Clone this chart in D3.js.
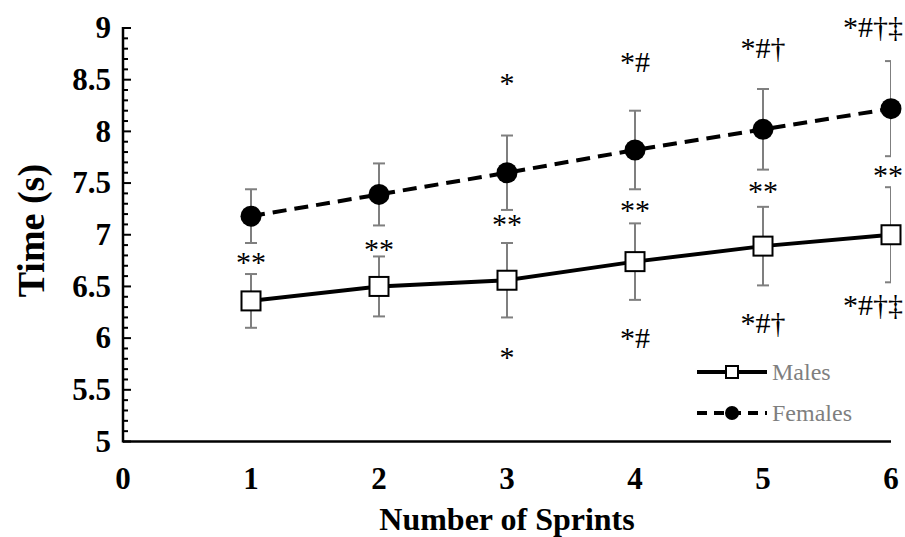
<!DOCTYPE html>
<html>
<head>
<meta charset="utf-8">
<script src="https://cdn.jsdelivr.net/npm/d3@7"></script>
<style>
  body { margin: 0; background: #fff; }
  svg text { font-family: "Liberation Serif", "Times New Roman", serif; }
</style>
</head>
<body>
<div id="chart"></div>
<script>
// sprint number (x)
var sprints = [1, 2, 3, 4, 5, 6]

// mean times and SD (s)
var malesMean = [6.36, 6.50, 6.56, 6.74, 6.89, 7.00]
var malesSD = [0.26, 0.29, 0.36, 0.37, 0.38, 0.46]
var femalesMean = [7.18, 7.39, 7.60, 7.82, 8.02, 8.22]
var femalesSD = [0.26, 0.30, 0.36, 0.38, 0.39, 0.46]

// significance markers and where they sit (in seconds)
var malesAbove = ["**", "**", "**", "**", "**", "**"]
var malesAboveAt = [6.64, 6.77, 7.01, 7.14, 7.33, 7.48]
var femalesAbove = ["", "", "*", "*#", "*#†", "*#†‡"]
var femalesAboveAt = [0, 0, 8.37, 8.57, 8.71, 8.91]
var malesBelow = ["", "", "*", "*#", "*#†", "*#†‡"]
var malesBelowAt = [0, 0, 5.72, 5.905, 6.05, 6.225]

var xTicks = [0, 1, 2, 3, 4, 5, 6]
var yTicks = [5, 5.5, 6, 6.5, 7, 7.5, 8, 8.5, 9]
var seriesNames = ["Males", "Females"]

var margin = { top: 28, right: 14, bottom: 96, left: 123 }

var svg = d3
  .select("#chart")
  .append("svg")
  .attr("width", 905)
  .attr("height", 537)

var g = svg
  .append("g")
  .attr("transform", "translate(" + margin.left + "," + margin.top + ")")

var x = d3.scaleLinear().domain([0, 6]).range([0, 768])
var y = d3.scaleLinear().domain([5, 9]).range([413.5, 0])

g.append("clipPath")
  .attr("id", "plot-clip")
  .append("rect")
  .attr("x", -5)
  .attr("y", -30)
  .attr("width", x(6) + 5)
  .attr("height", 480)

// y axis with minor ticks every 0.1
var minor = d3.range(50, 91).map((d) => d / 10)
g.append("g")
  .selectAll("line")
  .data(minor)
  .enter()
  .append("line")
  .attr("x1", 0)
  .attr("x2", (d, i) => (i % 5 === 0 ? 8 : 5))
  .attr("y1", (d) => y(d))
  .attr("y2", (d) => y(d))
  .attr("stroke", "#000")
  .attr("stroke-width", 2)

g.append("line")
  .attr("x1", 0).attr("x2", 0)
  .attr("y1", y(9) - 1).attr("y2", y(5) + 1)
  .attr("stroke", "#000").attr("stroke-width", 2.5)

g.append("line")
  .attr("x1", 0).attr("x2", x(6))
  .attr("y1", y(5)).attr("y2", y(5))
  .attr("stroke", "#000").attr("stroke-width", 2.5)

g.append("g")
  .selectAll("text")
  .data(yTicks)
  .enter()
  .append("text")
  .attr("x", -12)
  .attr("y", (d) => y(d))
  .attr("dy", "0.33em")
  .attr("text-anchor", "end")
  .style("font-size", "31px")
  .style("font-weight", "bold")
  .text((d) => d)

g.append("g")
  .selectAll("text")
  .data(xTicks)
  .enter()
  .append("text")
  .attr("x", (d) => x(d))
  .attr("y", y(5) + 47)
  .attr("text-anchor", "middle")
  .style("font-size", "31px")
  .style("font-weight", "bold")
  .text((d) => d)

// axis titles
g.append("text")
  .attr("x", x(3))
  .attr("y", y(5) + 88)
  .attr("text-anchor", "middle")
  .style("font-size", "32px")
  .style("font-weight", "bold")
  .text("Number of Sprints")

g.append("text")
  .attr("transform", "translate(-79," + y(7.04) + ") rotate(-90)")
  .attr("text-anchor", "middle")
  .style("font-size", "38px")
  .style("font-weight", "bold")
  .text("Time (s)")

var males = sprints.map((s, i) => ({ x: s, m: malesMean[i], sd: malesSD[i] }))
var females = sprints.map((s, i) => ({ x: s, m: femalesMean[i], sd: femalesSD[i] }))

// error bars (clipped at the plot edge like the original)
function errorBars(data) {
  var eb = g.append("g").attr("clip-path", "url(#plot-clip)")
    .attr("stroke", "#7f7f7f").attr("stroke-width", 2)
  eb.selectAll(".v").data(data).enter().append("line")
    .attr("x1", (d) => x(d.x)).attr("x2", (d) => x(d.x))
    .attr("y1", (d) => y(d.m + d.sd)).attr("y2", (d) => y(d.m - d.sd))
  eb.selectAll(".t").data(data).enter().append("line")
    .attr("x1", (d) => x(d.x) - 6).attr("x2", (d) => x(d.x) + 6)
    .attr("y1", (d) => y(d.m + d.sd)).attr("y2", (d) => y(d.m + d.sd))
  eb.selectAll(".b").data(data).enter().append("line")
    .attr("x1", (d) => x(d.x) - 6).attr("x2", (d) => x(d.x) + 6)
    .attr("y1", (d) => y(d.m - d.sd)).attr("y2", (d) => y(d.m - d.sd))
}
errorBars(males)
errorBars(females)

var line = d3.line().x((d) => x(d.x)).y((d) => y(d.m))

g.append("path")
  .datum(males)
  .attr("d", line)
  .attr("fill", "none")
  .attr("stroke", "#000")
  .attr("stroke-width", 4)

g.append("path")
  .datum(females)
  .attr("d", line)
  .attr("fill", "none")
  .attr("stroke", "#000")
  .attr("stroke-width", 4)
  .attr("stroke-dasharray", "14,8")

g.selectAll(".sq")
  .data(males)
  .enter()
  .append("rect")
  .attr("x", (d) => x(d.x) - 9.5)
  .attr("y", (d) => y(d.m) - 9.5)
  .attr("width", 19)
  .attr("height", 19)
  .attr("fill", "#fff")
  .attr("stroke", "#000")
  .attr("stroke-width", 2)

g.selectAll(".dot")
  .data(females)
  .enter()
  .append("circle")
  .attr("cx", (d) => x(d.x))
  .attr("cy", (d) => y(d.m))
  .attr("r", 10.5)
  .attr("fill", "#000")

// significance labels
function marks(labels, at) {
  g.append("g")
    .selectAll("text")
    .data(sprints.map((s, i) => ({ s: s, t: labels[i], v: at[i] })).filter((d) => d.t))
    .enter()
    .append("text")
    .attr("x", (d) => x(d.s))
    .attr("y", (d) => y(d.v))
    .attr("text-anchor", "middle")
    .style("font-size", "30px")
    .text((d) => d.t)
    .each(function (d) {
      // keep labels inside the chart area
      var b = this.getBBox()
      var over = b.x + b.width - (905 - margin.left - 2)
      if (over > 0) d3.select(this).attr("x", x(d.s) - over)
    })
}
marks(malesAbove, malesAboveAt)
marks(femalesAbove, femalesAboveAt)
marks(malesBelow, malesBelowAt)

// legend
var legend = g
  .append("g")
  .selectAll("g")
  .data(seriesNames)
  .enter()
  .append("g")
  .attr("transform", (d, i) => "translate(" + (697 - margin.left) + "," + (372 - margin.top + i * 41) + ")")

legend.append("line")
  .attr("x1", 0).attr("x2", 70)
  .attr("stroke", "#000").attr("stroke-width", 4)
  .attr("stroke-dasharray", (d, i) => (i === 1 ? "10,7" : null))

legend.filter((d, i) => i === 0).append("rect")
  .attr("x", 29).attr("y", -6).attr("width", 12).attr("height", 12)
  .attr("fill", "#fff").attr("stroke", "#000").attr("stroke-width", 2)

legend.filter((d, i) => i === 1).append("circle")
  .attr("cx", 35).attr("r", 7).attr("fill", "#000")

legend.append("text")
  .attr("x", 75)
  .attr("dy", "0.33em")
  .style("font-size", "24px")
  .style("fill", "#7f7f7f")
  .text((d) => d)
</script>
</body>
</html>
